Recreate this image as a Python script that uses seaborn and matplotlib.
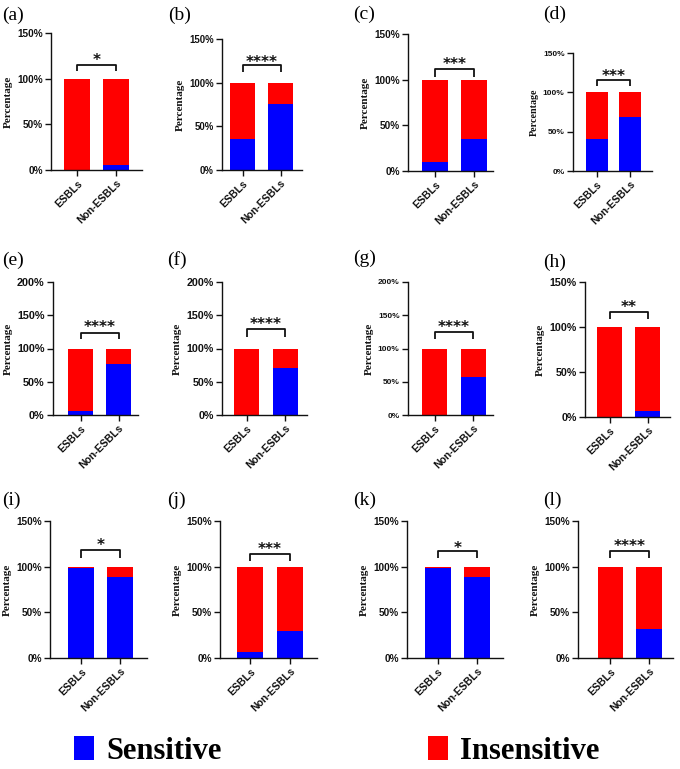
import matplotlib
matplotlib.use("Agg")
import matplotlib.pyplot as plt
import seaborn as sns
import pandas as pd
from matplotlib.patches import Patch
from matplotlib.transforms import ScaledTranslation

# ---------------- data ----------------
groups = ["ESBLs", "Non-ESBLs"]
panel_labels = ["(a)", "(b)", "(c)", "(d)", "(e)", "(f)",
                "(g)", "(h)", "(i)", "(j)", "(k)", "(l)"]
sensitive_esbl = [0, 35, 10, 41, 6, 0, 0, 0, 98, 7, 98, 0]
sensitive_non = [5, 76, 35, 69, 77, 71, 57, 7, 89, 30, 89, 32]
insensitive_esbl = [100, 65, 90, 59, 94, 100, 100, 100, 2, 93, 2, 100]
insensitive_non = [95, 24, 65, 31, 23, 29, 43, 93, 11, 70, 11, 68]
significance = ["*", "****", "***", "***", "****", "****",
                "****", "**", "*", "***", "*", "****"]
y_max = [150, 150, 150, 150, 200, 200, 200, 150, 150, 150, 150, 150]
legend_labels = ["Sensitive", "Insensitive"]

# ---------------- layout (pixels) ----------------
W, H = 680, 769
# left spine, right end of x axis, y of 0%, y of top tick
ax_left = [51, 222, 408, 573, 53, 222, 408, 585, 50, 220, 407, 578]
ax_right = [142, 302, 493, 652, 138, 307, 493, 670, 147, 317, 503, 673]
ax_y0 = [170, 170, 171, 171, 415, 415, 415, 417, 658, 658, 658, 658]
ax_ytop = [33, 39, 34, 53, 282, 282, 282, 282, 521, 521, 521, 521]
bar_c0 = [77, 242.5, 435, 596.7, 80.5, 246.8, 434.8, 609.7, 81.3, 250.3, 437.8, 610.3]
bar_c1 = [116, 280.5, 474, 629.7, 118.5, 285.2, 473.2, 647.8, 120.3, 289.7, 477, 649]
label_xy = [(2, 15), (168, 15), (353, 14), (543, 14), (2, 260), (167, 260),
            (353, 258), (543, 262), (2, 500), (167, 500), (353, 500), (543, 500)]
tick_fs = [7.2, 6.9, 7.2, 6.0, 7.8, 7.7, 6.0, 7.7, 7.2, 7.2, 7.2, 7.2]
ylab_fs = [8, 8, 8, 7.2, 8, 8, 8, 8, 8, 8, 8, 8]
# significance bracket (data units): top, leg end, star centre
br_top = [115, 120, 111.5, 116, 123, 129, 125, 116.7, 118, 113.6, 117, 117]
br_leg = [108, 112.6, 103, 108, 114, 118, 115, 108.6, 110, 106, 109, 109]
star_y = [124, 128, 120.6, 125.7, 138, 141.5, 138, 126, 127.8, 123.4, 124.6, 126]

BLUE = "#0000ff"
RED = "#ff0000"
INK = "#111111"

sns.set_theme(style="ticks")
plt.rcParams["font.family"] = ["Liberation Sans", "DejaVu Sans"]
plt.rcParams["axes.linewidth"] = 1.0
plt.rcParams["text.color"] = "black"
plt.rcParams["axes.labelcolor"] = "black"

fig = plt.figure(figsize=(W / 100, H / 100), dpi=100)

for i in range(12):
    L, R, y0, yt = ax_left[i], ax_right[i], ax_y0[i], ax_ytop[i]
    ax = fig.add_axes([L / W, 1 - y0 / H, (R - L) / W, (y0 - yt) / H])
    df = pd.DataFrame({
        "group": groups,
        "sensitive": [sensitive_esbl[i], sensitive_non[i]],
        "insensitive": [insensitive_esbl[i], insensitive_non[i]],
    })
    df["total"] = df["sensitive"] + df["insensitive"]
    sns.barplot(data=df, x="group", y="total", color=RED, saturation=1,
                width=0.66, ax=ax, linewidth=0)
    sns.barplot(data=df, x="group", y="sensitive", color=BLUE, saturation=1,
                width=0.66, ax=ax, linewidth=0)

    s = bar_c1[i] - bar_c0[i]
    ax.set_xlim(-(bar_c0[i] - L) / s, 1 + (R - bar_c1[i]) / s)
    ax.set_ylim(0, y_max[i])
    ax.set_yticks(range(0, y_max[i] + 1, 50))
    ax.set_yticklabels([f"{t}%" for t in range(0, y_max[i] + 1, 50)],
                       fontsize=tick_fs[i], fontweight="bold", color=INK)
    ax.set_xticks([0, 1])
    ax.set_xticklabels(groups, rotation=45, ha="right", rotation_mode="anchor",
                       fontsize=7.5, fontweight="bold", color=INK)
    ax.set_xlabel("")
    ax.set_ylabel("Percentage", family=["Liberation Serif", "DejaVu Serif"],
                  fontweight="bold", fontsize=ylab_fs[i], labelpad=3,
                  color=INK)
    ax.tick_params(axis="both", direction="out", length=4, width=1.0,
                   color=INK, pad=2)
    for sp in ["top", "right"]:
        ax.spines[sp].set_visible(False)
    for sp in ["left", "bottom"]:
        ax.spines[sp].set_color(INK)
    ax.grid(False)

    # significance bracket
    ax.plot([0, 0, 1, 1], [br_leg[i], br_top[i], br_top[i], br_leg[i]],
            color=INK, lw=1.3, clip_on=False, solid_capstyle="butt")
    off = ScaledTranslation(0, -0.55 * 11 / 72, fig.dpi_scale_trans)
    ax.text(0.5, star_y[i], significance[i], ha="center", va="baseline",
            fontsize=11, fontweight="bold", family="DejaVu Sans",
            color=INK, transform=ax.transData + off, clip_on=False)

    lx, ly = label_xy[i]
    fig.text(lx / W, 1 - ly / H, panel_labels[i], ha="left", va="center",
             fontsize=14, family=["Liberation Serif", "DejaVu Serif"],
             color="black")

# legend
leg_kw = dict(frameon=False, loc="center left", borderpad=0, borderaxespad=0,
              handlelength=0.65, handleheight=0.85, handletextpad=0.4,
              labelcolor="black",
              prop={"family": "Liberation Serif", "weight": "bold", "size": 22})
leg1 = fig.legend(handles=[Patch(facecolor=BLUE, edgecolor="none")],
                  labels=[legend_labels[0]],
                  bbox_to_anchor=(74 / W, 1 - 751 / H), **leg_kw)
leg2 = fig.legend(handles=[Patch(facecolor=RED, edgecolor="none")],
                  labels=[legend_labels[1]],
                  bbox_to_anchor=(428 / W, 1 - 751 / H), **leg_kw)

fig.savefig("out.png", dpi=100, facecolor="white")
